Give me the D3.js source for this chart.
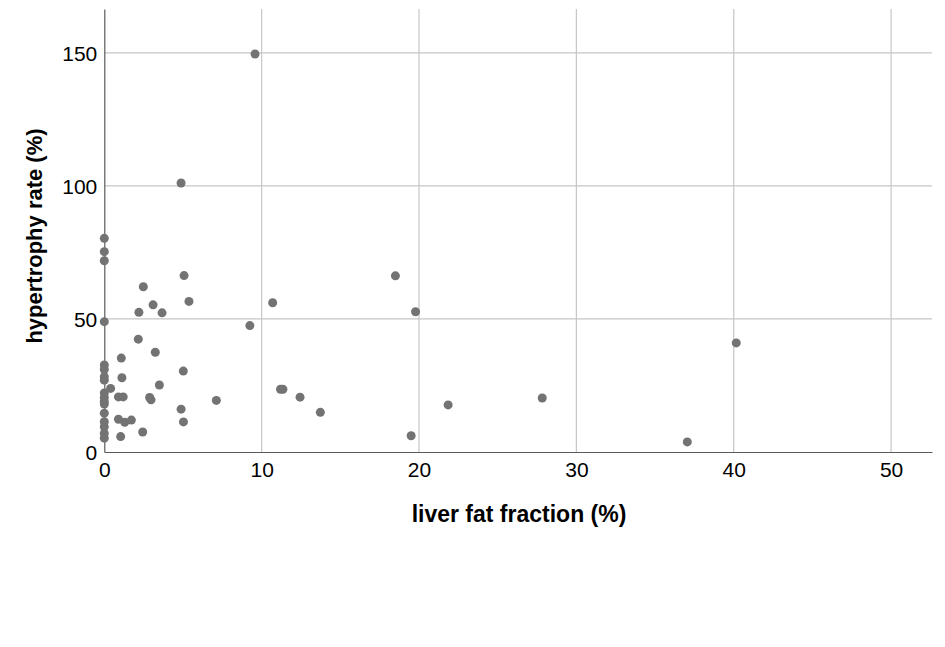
<!DOCTYPE html>
<html>
<head>
<meta charset="utf-8">
<script src="https://cdn.jsdelivr.net/npm/d3@7"></script>
<style>
  html, body { margin: 0; padding: 0; background: #fff; }
  svg { display: block; font-family: "Liberation Sans", Arial, sans-serif; }
</style>
</head>
<body>
<svg id="chart" width="945" height="647"></svg>
<script>
// liver fat fraction (%)
const fatFraction = [
  0, 0, 0, 0, 0, 0, 0, 0, 0, 0, 0, 0, 0, 0, 0, 0, 0,
  0.4, 0.9, 1.2, 1.08, 1.12, 0.9, 1.3, 1.72, 1.04,
  2.16, 2.2, 2.48, 3.1, 3.67, 5.07, 5.38, 3.24, 3.5, 2.88, 2.97, 2.44,
  4.88, 5.03, 5.02, 7.12, 4.88, 9.58, 9.25, 10.7, 11.2, 11.35, 12.44, 13.73,
  18.5, 19.78, 19.5, 21.85, 27.83, 37.05, 40.16
];
// hypertrophy rate (%)
const hypertrophyRate = [
  80.3, 75.3, 71.9, 49.0, 32.7, 31.0, 28.3, 27.0, 22.2, 20.5, 19.0, 14.6, 11.4, 9.5, 7.0, 5.2, 18.0,
  23.9, 20.7, 20.7, 35.3, 27.9, 12.3, 11.2, 12.0, 5.8,
  42.4, 52.5, 62.1, 55.3, 52.3, 66.3, 56.6, 37.5, 25.2, 20.5, 19.6, 7.5,
  16.1, 11.3, 30.4, 19.4, 101.1, 149.6, 47.5, 56.1, 23.6, 23.6, 20.6, 14.9,
  66.2, 52.7, 6.1, 17.7, 20.3, 3.8, 41.0
];
const xTicks = [0, 10, 20, 30, 40, 50];
const yTicks = [0, 50, 100, 150];
const xLabel = "liver fat fraction (%)";
const yLabel = "hypertrophy rate (%)";

(function () {
const svg = d3.select("#chart");
const pLeft = 104.3, pRight = 932, pTop = 9, pBottom = 452;

const x = d3.scaleLinear().domain([0, 52.6]).range([pLeft, pRight]);
const y = d3.scaleLinear().domain([0, 166.5]).range([pBottom, pTop]);

const gridColor = "#c6c6c6";
const axisColor = "#5a5a5a";

// gridlines
svg.append("g")
  .selectAll("line")
  .data(xTicks.filter(d => d > 0))
  .join("line")
  .attr("x1", d => x(d)).attr("x2", d => x(d))
  .attr("y1", pTop).attr("y2", pBottom)
  .attr("stroke", gridColor).attr("stroke-width", 1.2);

svg.append("g")
  .selectAll("line")
  .data(yTicks.filter(d => d > 0))
  .join("line")
  .attr("x1", pLeft).attr("x2", pRight)
  .attr("y1", d => y(d)).attr("y2", d => y(d))
  .attr("stroke", gridColor).attr("stroke-width", 1.2);

// axes
const xAxis = d3.axisBottom(x).tickValues(xTicks).tickSize(0).tickPadding(10).tickFormat(d3.format("d"));
const yAxis = d3.axisLeft(y).tickValues(yTicks).tickSize(0).tickPadding(7).tickFormat(d3.format("d"));

const gx = svg.append("g").attr("transform", `translate(0,${pBottom})`).call(xAxis);
gx.select(".domain").attr("stroke", axisColor).attr("stroke-width", 1.2);
gx.selectAll("text").attr("font-size", 21).attr("fill", "#000")
  .attr("font-family", "'Liberation Sans', Arial, sans-serif");

const gy = svg.append("g").attr("transform", `translate(${pLeft},0)`).call(yAxis);
gy.select(".domain").attr("stroke", axisColor).attr("stroke-width", 1.2);
gy.selectAll("text").attr("font-size", 21).attr("fill", "#000")
  .attr("dy", "0.36em")
  .attr("font-family", "'Liberation Sans', Arial, sans-serif");

// axis titles
svg.append("text")
  .attr("x", 519)
  .attr("y", 522)
  .attr("text-anchor", "middle")
  .attr("font-size", 23)
  .attr("font-weight", "bold")
  .text(xLabel);

svg.append("text")
  .attr("transform", `translate(42,236) rotate(-90)`)
  .attr("text-anchor", "middle")
  .attr("font-size", 22)
  .attr("font-weight", "bold")
  .text(yLabel);

// points
svg.append("g")
  .selectAll("circle")
  .data(fatFraction.map((d, i) => [d, hypertrophyRate[i]]))
  .join("circle")
  .attr("cx", d => x(d[0]))
  .attr("cy", d => y(d[1]))
  .attr("r", 4.5)
  .attr("fill", "#737373");
})();
</script>
</body>
</html>
